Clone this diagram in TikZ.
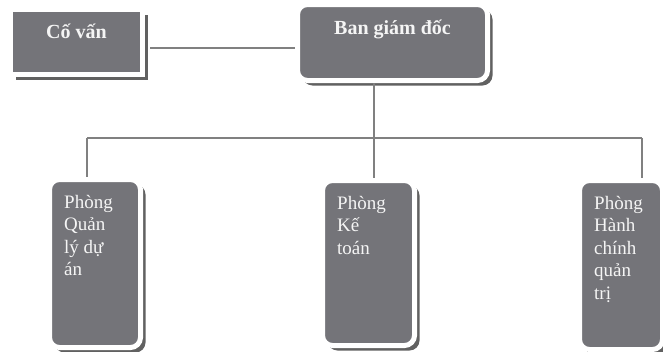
\documentclass[tikz,border=0pt]{standalone}
\usepackage{fontspec}
\setmainfont{Liberation Serif}
\usepackage{xcolor}
\usepackage{tikz}
\usetikzlibrary{shadows}
\usetikzlibrary{positioning}
\usetikzlibrary{calc}
\definecolor{boxgray}{RGB}{116,116,121}
\tikzstyle{box}=[rectangle,fill=boxgray,draw=white,line width=5pt,inner sep=0pt,general shadow={fill=black!62,shadow xshift=5pt,shadow yshift=-5pt}]
\tikzstyle{roundbox}=[box,rounded corners=10pt]
\tikzstyle{link}=[draw,black!50,line width=1.1pt]
\tikzstyle{headtext}=[font=\bfseries\fontsize{20}{24}\selectfont,text=black!4,inner sep=0pt,anchor=base]
\tikzstyle{depttext}=[font=\fontsize{19}{22.5}\selectfont,text=black!4,align=left,inner sep=0pt,anchor=north west]

\begin{document}
\begin{tikzpicture}[x=1pt,y=1pt]

  \useasboundingbox (0,0) rectangle (663,-351);

  % top row
  \node[box,minimum width=132pt,minimum height=65pt] (cv) at (76.5,-42) {};
  \node[roundbox,minimum width=190pt,minimum height=76pt] (bgd) at (392.5,-42.5) {};
  \node[headtext] (cvt) at ([yshift=-31pt]cv.north) {Cố vấn};
  \node[headtext] (bgdt) at ([yshift=-32pt]bgd.north) {Ban giám đốc};

  % departments
  \foreach \x/\y/\w/\h/\name in {95/-263.5/91/168/pql, 368.5/-263/92/165/pkt, 621/-265/83/169/phc}
         \node[roundbox,minimum width=\w pt,minimum height=\h pt] (\name) at (\x,\y) {};

  \node[depttext] (pqlt) at ([xshift=17pt,yshift=-18pt]pql.north west) {Phòng\\Quản\\lý dự\\án};
  \node[depttext] (pktt) at ([xshift=17pt,yshift=-18pt]pkt.north west) {Phòng\\Kế\\toán};
  \node[depttext] (phct) at ([xshift=17pt,yshift=-18pt]phc.north west) {Phòng\\Hành\\chính\\quản\\trị};

  % connectors
  \path[link] ([xshift=5pt,yshift=-6pt]cv.east) -- ([yshift=-6pt]cv.east -| bgd.west);

  \foreach \x/\name in {87/bl, 374/bm, 642/br}
         \coordinate (\name) at (\x,-138);

  \path[link] (bm) -- (bm |- bgd.south);
  \path[link] (bl) -- (br);
  \foreach \source/\dest in {bl/pql, bm/pkt, br/phc}
         \path[link] (\source) -- (\source |- \dest.north);

\end{tikzpicture}
\end{document}
